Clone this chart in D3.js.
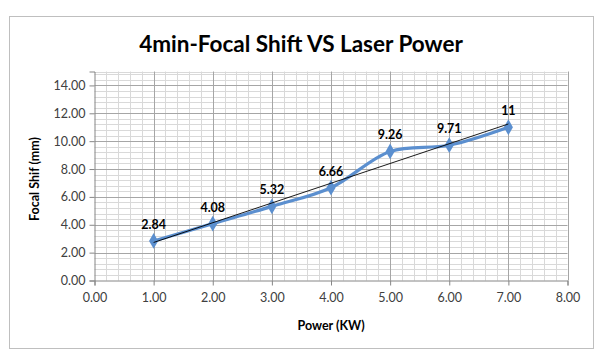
<!DOCTYPE html>
<html><head><meta charset="utf-8">
<script src="https://cdn.jsdelivr.net/npm/d3@7"></script>
<style>body{margin:0;background:#fff;} svg{display:block;font-family:Lato,"Open Sans",sans-serif;}</style>
</head><body>
<svg id="c" width="600" height="358"></svg>
<script>
const powers = [1, 2, 3, 4, 5, 6, 7];
const shifts = [2.84, 4.08, 5.32, 6.66, 9.26, 9.71, 11];
const labels = ["2.84", "4.08", "5.32", "6.66", "9.26", "9.71", "11"];
const xTicks = [0, 1, 2, 3, 4, 5, 6, 7, 8];
const yTicks = [0, 2, 4, 6, 8, 10, 12, 14];

const svg = d3.select("#c");
svg.append("rect").attr("x", 9.5).attr("y", 16.5).attr("width", 584).attr("height", 332)
  .attr("fill", "#fff").attr("stroke", "#bfbfbf");

const x = d3.scaleLinear().domain([0, 8]).range([94.5, 567.5]);
const y = d3.scaleLinear().domain([0, 15]).range([280.5, 71.5]);

const g = svg.append("g");
const xMinor = d3.range(0, 8.001, 0.2).filter(v => Math.abs(v - Math.round(v)) > 1e-6);
const yMinor = d3.range(0, 15.001, 0.4).filter(v => Math.abs(v / 2 - Math.round(v / 2)) > 1e-6).concat([15]);
g.selectAll(".xm").data(xMinor).join("line")
  .attr("x1", d => Math.round(x(d)) + 0.5).attr("x2", d => Math.round(x(d)) + 0.5)
  .attr("y1", y(15)).attr("y2", y(0)).attr("stroke", "#d9d9d9");
g.selectAll(".ym").data(yMinor).join("line")
  .attr("y1", d => Math.round(y(d)) + 0.5).attr("y2", d => Math.round(y(d)) + 0.5)
  .attr("x1", x(0)).attr("x2", x(8)).attr("stroke", "#d9d9d9");
g.selectAll(".xM").data(xTicks.slice(1)).join("line")
  .attr("x1", d => Math.round(x(d)) + 0.5).attr("x2", d => Math.round(x(d)) + 0.5)
  .attr("y1", y(15)).attr("y2", y(0)).attr("stroke", "#a6a6a6");
g.selectAll(".yM").data(yTicks.slice(1)).join("line")
  .attr("y1", d => Math.round(y(d)) + 0.5).attr("y2", d => Math.round(y(d)) + 0.5)
  .attr("x1", x(0)).attr("x2", x(8)).attr("stroke", "#a6a6a6");

const xAxis = svg.append("g").attr("transform", `translate(0,${y(0)})`)
  .call(d3.axisBottom(x).tickValues(xTicks).tickFormat(d3.format(".2f")).tickSize(5).tickPadding(8));
const yAxis = svg.append("g").attr("transform", `translate(${x(0)},0)`)
  .call(d3.axisLeft(y).tickValues(yTicks).tickFormat(d3.format(".2f")).tickSize(5).tickPadding(4));
[xAxis, yAxis].forEach(a => {
  a.select(".domain").attr("stroke", "#868686");
  a.selectAll(".tick line").attr("stroke", "#868686");
  a.selectAll("text").attr("font-family", "Lato").attr("font-size", 12.5).attr("fill", "#404040");
});

const mx = d3.mean(powers), my = d3.mean(shifts);
const slope = d3.sum(powers, (p, i) => (p - mx) * (shifts[i] - my)) / d3.sum(powers, p => (p - mx) ** 2);
const icpt = my - slope * mx;
const x0 = d3.min(powers), x1 = d3.max(powers);

const pts = powers.map((p, i) => [x(p), y(shifts[i])]);
svg.append("path").attr("d", d3.line().curve(d3.curveCatmullRom.alpha(0.5))(pts))
  .attr("fill", "none").attr("stroke", "#5b8fcf").attr("stroke-width", 3.2).attr("stroke-linejoin", "round");
svg.selectAll(".mk").data(pts).join("path")
  .attr("transform", d => `translate(${d[0]},${d[1]})`)
  .attr("d", d3.symbol(d3.symbolDiamond, 72)())
  .attr("fill", "#5b8fcf");

svg.append("line").attr("x1", x(x0)).attr("y1", y(slope * x0 + icpt))
  .attr("x2", x(x1)).attr("y2", y(slope * x1 + icpt)).attr("stroke", "#000").attr("stroke-width", 0.9);

svg.selectAll(".lbl").data(powers).join("text")
  .attr("x", (p, i) => x(p)).attr("y", (p, i) => y(shifts[i]) - 12)
  .attr("text-anchor", "middle").attr("font-family", "Lato").attr("font-weight", "bold")
  .attr("font-size", 12.5).attr("fill", "#000").text((p, i) => labels[i]);

svg.append("text").attr("x", 301).attr("y", 52).attr("text-anchor", "middle")
  .attr("font-family", "Lato").attr("font-weight", "bold").attr("font-size", 22.5).attr("fill", "#000")
  .text("4min-Focal Shift VS Laser Power");
svg.append("text").attr("x", 331).attr("y", 330).attr("text-anchor", "middle")
  .attr("font-family", "Lato").attr("font-weight", "bold").attr("font-size", 12.5).attr("fill", "#000")
  .text("Power (KW)");
svg.append("text").attr("transform", "translate(39,179) rotate(-90)").attr("text-anchor", "middle")
  .attr("font-family", "Lato").attr("font-weight", "bold").attr("font-size", 12.5).attr("fill", "#000")
  .text("Focal Shif (mm)");
</script>
</body></html>
